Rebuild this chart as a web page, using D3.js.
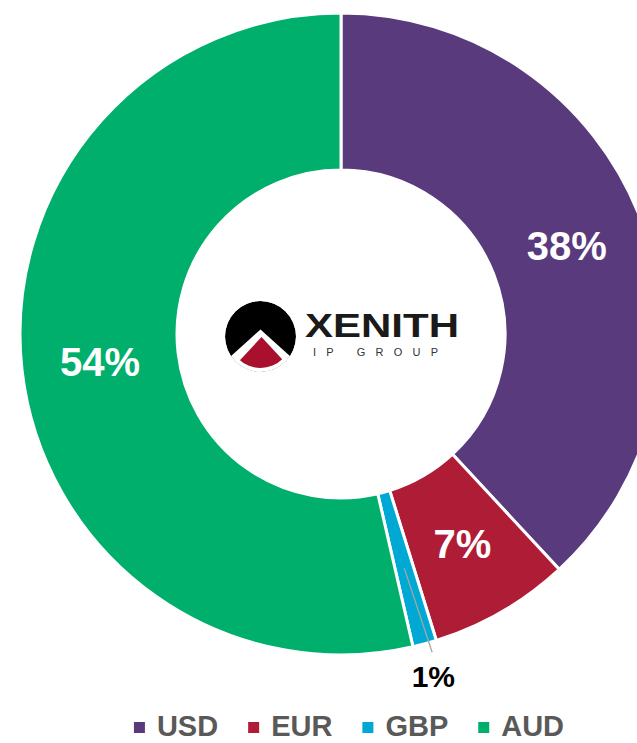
<!DOCTYPE html>
<html>
<head>
<meta charset="utf-8">
<script src="https://cdn.jsdelivr.net/npm/d3@7"></script>
<style>
  html, body { margin: 0; padding: 0; background: #fff; }
  svg { display: block; }
</style>
</head>
<body>
<div id="chart"></div>
<script>
// data
var currencies = ["USD", "EUR", "GBP", "AUD"];
var shares = [38.1, 7.1, 1.2, 53.6];
var colors = ["#593a7d", "#af1c36", "#00a9d3", "#00af6c"];

var W = 637, H = 743;
var cx = 341, cy = 334, outerR = 321, innerR = 164;

var svg = d3.select("#chart").append("svg")
    .attr("width", W)
    .attr("height", H);

var data = currencies.map(function (c, i) {
    return { id: c, val: shares[i], color: colors[i] };
});

var pie = d3.pie()
    .sort(null)
    .value(function (d) { return d.val; });

var arc = d3.arc()
    .innerRadius(innerR)
    .outerRadius(outerR);

var g = svg.append("g")
    .attr("transform", "translate(" + cx + "," + cy + ")");

var arcs = pie(data);

// slices
g.selectAll(".slice")
    .data(arcs)
    .enter().append("path")
    .attr("class", "slice")
    .attr("d", arc)
    .style("fill", function (d) { return d.data.color; })
    .style("stroke", "#fff")
    .style("stroke-width", 3)
    .style("stroke-linejoin", "miter");

// labels - small slice gets an outside label with a leader line
var small = function (d) { return d.data.val < 3; };

g.selectAll(".inlabel")
    .data(arcs.filter(function (d) { return !small(d); }))
    .enter().append("text")
    .attr("class", "inlabel")
    .attr("transform", function (d) {
        var c = arc.centroid(d);
        return "translate(" + c[0] + "," + c[1] + ")";
    })
    .attr("dy", "0.36em")
    .style("text-anchor", "middle")
    .style("font", "bold 40px 'Liberation Sans', Arial, sans-serif")
    .style("fill", "#fff")
    .text(function (d) { return Math.round(d.data.val) + "%"; });

var outs = arcs.filter(small);
outs.forEach(function (d) {
    var mid = (d.startAngle + d.endAngle) / 2;
    var c = arc.centroid(d);
    var lr = 354;
    var lx = Math.sin(mid) * lr, ly = -Math.cos(mid) * lr;
    var ea = mid - 0.015, er = 331;
    g.append("line")
        .attr("x1", c[0]).attr("y1", c[1])
        .attr("x2", Math.sin(ea) * er).attr("y2", -Math.cos(ea) * er)
        .style("stroke", "#a6a6a6")
        .style("stroke-width", 1.3);
    g.append("text")
        .attr("x", lx)
        .attr("y", ly)
        .attr("dy", "0.36em")
        .style("text-anchor", "middle")
        .style("font", "bold 30px 'Liberation Sans', Arial, sans-serif")
        .style("fill", "#000")
        .text(Math.round(d.data.val) + "%");
});

// logo in the hole
var logo = svg.append("g");
var lcx = 260.5, lcy = 336.5, lr = 35.5;
var defs = svg.append("defs");
defs.append("clipPath").attr("id", "logoClip")
    .append("circle").attr("cx", lcx).attr("cy", lcy).attr("r", lr);
defs.append("clipPath").attr("id", "redClip")
    .append("circle").attr("cx", lcx).attr("cy", lcy).attr("r", lr - 4);
var lg = logo.append("g").attr("clip-path", "url(#logoClip)");
lg.append("circle").attr("cx", lcx).attr("cy", lcy).attr("r", lr).style("fill", "#000");
lg.append("path")
    .attr("d", "M" + (lcx - 60) + "," + (lcy + 47) + " L" + lcx + "," + (lcy - 7) +
        " L" + (lcx + 60) + "," + (lcy + 47) + "Z")
    .style("fill", "#fff");
logo.append("path")
    .attr("clip-path", "url(#redClip)")
    .attr("d", "M" + (lcx - 45) + "," + (lcy + 50) + " L" + (lcx + 1) + "," + (lcy + 0.5) +
        " L" + (lcx + 47) + "," + (lcy + 50) + "Z")
    .style("fill", "#a8102e");

logo.append("text")
    .attr("x", 305).attr("y", 337)
    .attr("textLength", 154)
    .attr("lengthAdjust", "spacingAndGlyphs")
    .style("font", "bold 33px 'Liberation Sans', Arial, sans-serif")
    .style("fill", "#1a1a1a")
    .text("XENITH");
logo.append("text")
    .attr("x", 313).attr("y", 356)
    .attr("textLength", 125)
    .attr("lengthAdjust", "spacing")
    .style("font", "11px 'Liberation Sans', Arial, sans-serif")
    .style("fill", "#333")
    .text("IP GROUP");

// legend
var legend = svg.append("g").attr("class", "legend");
var items = legend.selectAll(".item")
    .data(data)
    .enter().append("g")
    .attr("class", "item");
items.append("rect")
    .attr("width", 11).attr("height", 11)
    .attr("y", 722)
    .style("fill", function (d) { return d.color; });
items.append("text")
    .attr("y", 736)
    .style("font", "bold 29px 'Liberation Sans', Arial, sans-serif")
    .style("fill", "#595959")
    .text(function (d) { return d.id; });

var xpos = 0, widths = [];
items.each(function (d) {
    var tw = d3.select(this).select("text").node().getComputedTextLength();
    widths.push(tw);
});
var total = 0;
widths.forEach(function (w, i) { total += 11 + 12 + w + (i < widths.length - 1 ? 30 : 0); });
xpos = 349 - total / 2;
items.each(function (d, i) {
    var it = d3.select(this);
    it.select("rect").attr("x", xpos);
    it.select("text").attr("x", xpos + 23);
    xpos += 23 + widths[i] + 30;
});
</script>
</body>
</html>
